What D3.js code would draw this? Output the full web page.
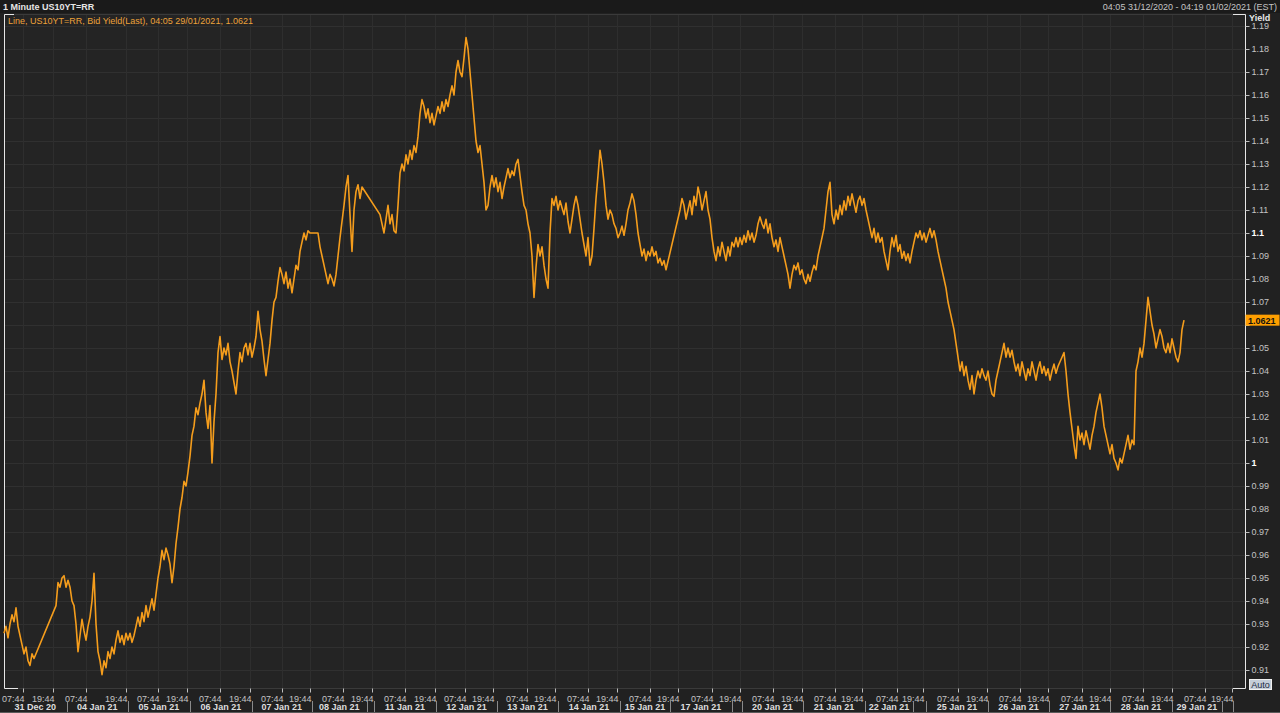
<!DOCTYPE html>
<html><head><meta charset="utf-8">
<script src="https://cdn.jsdelivr.net/npm/d3@7"></script>
<style>
html,body{margin:0;padding:0;background:#1f1f1f;}
svg{display:block;font-family:"Liberation Sans",Arial,sans-serif;}
</style></head>
<body>
<svg id="c" width="1280" height="713"></svg>
<script>
// ---------- DATA ----------
const chartTitle = "1 Minute US10YT=RR";
const rangeText = "04:05 31/12/2020 - 04:19 01/02/2021 (EST)";
const legendText = "Line, US10YT=RR, Bid Yield(Last), 04:05 29/01/2021, 1.0621";
const lastValueLabel = "1.0621";
const yAxisTitle = "Yield";
// compressed trading time, in hours from the first sample; one sample per 0.8 h (null = no data)
const sampleStepHours = 0.8;
const axisEndHours = 496.4;
const yields = [
 0.926,0.929,0.924,0.930,0.934,0.931,0.937,0.929,0.925,0.921,
 0.917,0.920,0.914,0.912,0.917,0.915,null,null,null,null,
 null,null,null,null,null,null,0.938,0.948,0.946,0.950,
 0.951,0.946,0.949,0.946,0.940,0.938,0.930,0.918,0.925,0.932,
 0.927,0.923,0.929,0.933,0.940,0.952,0.930,0.918,0.914,0.908,
 0.914,0.911,0.918,0.915,0.920,0.917,0.923,0.927,0.922,0.925,
 0.921,0.926,0.923,0.926,0.922,0.925,0.929,0.933,0.929,0.935,
 0.931,0.938,0.933,0.937,0.941,0.936,0.943,0.950,0.955,0.962,
 0.958,0.963,0.960,0.956,0.948,0.955,0.965,0.972,0.980,0.985,
 0.992,0.990,0.996,1.003,1.012,1.016,1.024,1.021,1.026,1.030,
 1.036,1.022,1.015,1.025,1.000,1.018,1.030,1.048,1.055,1.045,
 1.050,1.047,1.052,1.044,1.040,1.035,1.030,1.040,1.048,1.044,
 1.050,1.052,1.047,1.052,1.046,1.050,1.055,1.066,1.058,1.053,
 1.045,1.038,1.045,1.052,1.062,1.070,1.072,1.079,1.085,1.082,
 1.078,1.083,1.076,1.080,1.074,1.080,1.086,1.084,1.092,1.096,
 1.100,1.097,1.101,1.100,null,null,null,1.100,1.094,1.090,
 1.086,1.082,1.078,1.082,1.080,1.077,1.082,1.090,1.098,1.105,
 1.112,1.120,1.125,1.108,1.092,1.110,1.118,1.121,1.115,1.120,
 null,null,null,null,null,null,null,null,1.108,1.104,
 1.100,1.106,1.112,1.104,1.108,1.101,1.100,1.112,1.126,1.130,
 1.127,1.134,1.130,1.136,1.132,1.138,1.135,1.142,1.152,1.158,
 1.155,1.150,1.154,1.148,1.152,1.147,1.151,1.155,1.152,1.157,
 1.153,1.158,1.155,1.160,1.164,1.160,1.170,1.175,1.170,1.168,
 1.176,1.185,1.180,1.170,1.160,1.150,1.140,1.135,1.138,1.130,
 1.122,1.110,1.112,1.120,1.125,1.120,1.124,1.118,1.122,1.115,
 1.120,1.124,1.128,1.124,1.127,1.125,1.130,1.132,1.125,1.118,
 1.112,1.110,1.104,1.100,1.090,1.072,1.085,1.095,1.090,1.094,
 1.086,1.080,1.076,1.100,1.115,1.112,1.116,1.110,1.114,1.111,
 1.108,1.113,1.105,1.100,1.106,1.112,1.116,1.112,1.106,1.100,
 1.095,1.090,1.098,1.086,1.090,1.102,1.115,1.125,1.136,1.130,
 1.122,1.112,1.106,1.110,1.108,1.104,1.102,1.098,1.100,1.103,
 1.099,1.104,1.110,1.113,1.117,1.114,1.108,1.100,1.095,1.090,
 1.093,1.088,1.092,1.090,1.094,1.090,1.092,1.087,1.089,1.086,
 1.088,1.084,null,null,null,null,null,null,1.110,1.115,
 1.112,1.106,1.110,1.114,1.108,1.116,1.112,1.120,1.116,1.110,
 1.114,1.118,1.110,1.106,1.098,1.092,1.088,1.094,1.090,1.096,
 1.092,1.088,1.094,1.090,1.096,1.094,1.098,1.094,1.098,1.095,
 1.099,1.096,1.101,1.097,1.100,1.096,1.099,1.104,1.107,1.104,
 1.102,1.106,1.100,1.104,1.098,1.094,1.097,1.092,1.098,1.094,
 1.090,1.086,1.082,1.076,1.082,1.086,1.084,1.087,1.082,1.084,
 1.080,1.078,1.082,1.079,1.083,1.086,1.084,1.090,1.094,1.098,
 1.102,1.110,1.118,1.122,1.108,1.104,1.110,1.106,1.112,1.108,
 1.114,1.110,1.116,1.112,1.117,1.113,1.109,1.114,1.116,1.112,
 1.115,1.110,1.106,1.102,1.098,1.102,1.096,1.100,1.096,1.098,
 1.092,1.088,1.084,1.092,1.098,1.094,1.099,1.092,1.095,1.089,
 1.092,1.088,1.091,1.087,1.092,1.096,1.100,1.098,1.101,1.097,
 1.100,1.096,1.099,1.102,1.098,1.101,1.097,1.092,1.088,1.084,
 1.080,1.076,1.070,1.066,1.062,1.058,1.052,1.046,1.040,1.044,
 1.038,1.042,1.036,1.032,1.038,1.030,1.036,1.040,1.037,1.041,
 1.038,1.036,1.040,1.034,1.030,1.029,1.036,1.040,1.044,1.048,
 1.052,1.046,1.050,1.046,1.049,1.044,1.040,1.043,1.038,1.044,
 1.040,1.036,1.041,1.038,1.044,1.040,1.036,1.041,1.044,1.039,
 1.042,1.038,1.041,1.036,1.040,1.043,1.039,1.042,1.044,1.046,
 1.048,1.040,1.030,1.022,1.015,1.008,1.002,1.016,1.010,1.013,
 1.008,1.014,1.010,1.006,1.012,1.016,1.022,1.026,1.030,1.024,
 1.016,1.012,1.008,1.004,1.008,1.002,1.000,0.997,1.002,1.000,
 1.004,1.008,1.012,1.006,1.010,1.008,1.040,1.044,1.050,1.046,
 1.052,1.062,1.072,1.066,1.060,1.056,1.050,1.054,1.058,1.055,
 1.050,1.048,1.052,1.048,1.054,1.050,1.046,1.044,1.048,1.058,
 1.0621
];
// day segments of the compressed time axis (hours)
const dayLabels = ["31 Dec 20","04 Jan 21","05 Jan 21","06 Jan 21","07 Jan 21","08 Jan 21","","11 Jan 21","12 Jan 21","13 Jan 21","14 Jan 21","15 Jan 21","17 Jan 21","","20 Jan 21","21 Jan 21","22 Jan 21","","25 Jan 21","26 Jan 21","27 Jan 21","28 Jan 21","29 Jan 21",""];
const dayStart = [0,25.1,49.5,74.4,99.1,123.1,145.1,148.0,172.8,197.2,221.6,246.4,266.4,291.1,295.1,319.6,344.4,363.6,368.8,393.6,418.0,442.4,467.2,487.1];
const dayEnd   = [25.1,49.5,74.4,99.1,123.1,145.1,148.0,172.8,197.2,221.6,246.4,266.4,291.1,295.1,319.6,344.4,363.6,368.8,393.6,418.0,442.4,467.2,487.1,491.6];
// intraday time ticks (hours)
const ticksMorning = [7.6,32.8,61.6,86.4,111.2,135.6,160.4,184.4,209.2,233.6,258.4,283.2,307.6,332.4,357.2,381.6,406.4,431.2,455.6,480.4];
const ticksEvening = [19.6,48.8,73.2,98.4,122.4,147.2,172.4,195.6,220.4,245.2,269.6,294.4,319.2,343.2,367.6,393.2,417.6,442.4,467.2,491.2];
const morningLabel = "07:44", eveningLabel = "19:44";
const yTicks = [0.91,0.92,0.93,0.94,0.95,0.96,0.97,0.98,0.99,1.00,1.01,1.02,1.03,1.04,1.05,1.06,1.07,1.08,1.09,1.10,1.11,1.12,1.13,1.14,1.15,1.16,1.17,1.18,1.19];
const yBoldTicks = [1.00, 1.10];

// ---------- LAYOUT ----------
const L = 4, R = 1245, T = 14, B = 688;
const svg = d3.select("#c");
const x = d3.scaleLinear().domain([0, axisEndHours]).range([L, R]);
const y = d3.scaleLinear().domain([0.91, 1.19]).range([670, 26]);
const ORANGE = "#f59d1c";
const TXT = "#c4c4c4";

svg.append("rect").attr("x",0).attr("y",0).attr("width",1280).attr("height",713).attr("fill","#212121");
svg.append("rect").attr("x",0).attr("y",0).attr("width",1280).attr("height",13).attr("fill","#1a1a1a");
svg.append("rect").attr("x",L).attr("y",T).attr("width",R-L).attr("height",B-T).attr("fill","#242424");

// grid
const allTicks = ticksMorning.concat(ticksEvening).sort((a,b)=>a-b);
const grid = svg.append("g");
grid.selectAll("line.h").data(yTicks).join("line")
  .attr("x1",L).attr("x2",R).attr("y1",d=>Math.round(y(d))+0.5).attr("y2",d=>Math.round(y(d))+0.5)
  .attr("stroke","#303030").attr("stroke-width",1);
grid.selectAll("line.v").data(allTicks).join("line")
  .attr("x1",d=>Math.round(x(d))+0.5).attr("x2",d=>Math.round(x(d))+0.5).attr("y1",T).attr("y2",B)
  .attr("stroke","#2e2e2e").attr("stroke-width",1);

// frame
const fr = svg.append("g").attr("stroke-width",1).attr("fill","none");
fr.append("line").attr("x1",L).attr("x2",R).attr("y1",T+0.5).attr("y2",T+0.5).attr("stroke","#3a3a3a");
fr.append("line").attr("x1",L).attr("x2",R).attr("y1",B+0.5).attr("y2",B+0.5).attr("stroke","#3a3a3a");
fr.append("path").attr("d",`M${L+0.5},${B}V${T+0.5}H${L+10}`).attr("stroke","#e6e6e6");
fr.append("path").attr("d",`M${L+0.5},${B-10}V${B+0.5}H${L+14}`).attr("stroke","#e6e6e6");
fr.append("path").attr("d",`M${R-12},${T+0.5}H${R+0.5}V${B+0.5}H${R-12}`).attr("stroke","#e6e6e6");

// line
const pts = yields.map((v,i)=>({h:i*sampleStepHours, v})).filter(d=>d.v!==null);
svg.append("path").datum(pts)
  .attr("d", d3.line().x(d=>x(d.h)).y(d=>y(d.v)))
  .attr("fill","none").attr("stroke",ORANGE).attr("stroke-width",1.6).attr("stroke-linejoin","round");

// y axis (right)
const lastV = pts[pts.length-1].v;
const yAxis = svg.append("g").attr("transform",`translate(${R+0.5},0)`)
  .call(d3.axisRight(y).tickValues(yTicks).tickSize(4).tickPadding(2).tickFormat(d=>String(+d.toFixed(2))));
yAxis.select(".domain").remove();
yAxis.selectAll(".tick line").attr("stroke","#bdbdbd");
yAxis.selectAll(".tick text").style("font-size","9px").style("font-family","Liberation Sans, Arial, sans-serif")
  .attr("font-weight",d=>yBoldTicks.some(b=>Math.abs(b-d)<1e-9)?"bold":"normal")
  .attr("fill",d=>yBoldTicks.some(b=>Math.abs(b-d)<1e-9)?"#ffffff":TXT)
  .style("display",d=>Math.abs(y(d)-y(lastV))<8?"none":null);
svg.append("text").attr("x",R+4).attr("y",21).text(yAxisTitle)
  .attr("fill","#e8e8e8").attr("font-weight","bold").style("font-size","9px");

// last value box
svg.append("rect").attr("x",R+0.5).attr("y",y(lastV)-5.5).attr("width",34).attr("height",11).attr("fill","#ff9f00");
svg.append("text").attr("x",R+3).attr("y",y(lastV)+3.5).text(lastValueLabel)
  .attr("fill","#111").attr("font-weight","bold").style("font-size","9px");

// x axis
const xAxis = svg.append("g").attr("transform",`translate(0,${B+0.5})`)
  .call(d3.axisBottom(x).tickValues(allTicks).tickSize(4).tickPadding(3)
    .tickFormat(d=>ticksMorning.includes(d)?morningLabel:eveningLabel));
xAxis.select(".domain").remove();
xAxis.selectAll(".tick line").attr("stroke","#bdbdbd");
xAxis.selectAll(".tick text").attr("fill",TXT).style("font-size","9px").style("font-family","Liberation Sans, Arial, sans-serif")
  .attr("text-anchor","end").attr("x",1);

// day row
const days = dayLabels.map((l,i)=>({l, s:dayStart[i], e:dayEnd[i]}));
const dg = svg.append("g");
dg.selectAll("line").data(days).join("line")
  .attr("x1",d=>Math.round(x(d.e))+0.5).attr("x2",d=>Math.round(x(d.e))+0.5)
  .attr("y1",701).attr("y2",713).attr("stroke","#8a8a8a");
dg.selectAll("text").data(days.filter(d=>d.l)).join("text")
  .attr("x",d=>x((d.s+d.e)/2)).attr("y",710).attr("text-anchor","middle").text(d=>d.l)
  .attr("fill","#dedede").attr("font-weight","bold").style("font-size","9px");
svg.append("line").attr("x1",0).attr("x2",1280).attr("y1",712.5).attr("y2",712.5).attr("stroke","#5a5a5a");

// headers
svg.append("text").attr("x",3).attr("y",10).text(chartTitle).attr("fill","#e6e6e6").attr("font-weight","bold").style("font-size","9px");
svg.append("text").attr("x",1277).attr("y",10).attr("text-anchor","end").text(rangeText).attr("fill",TXT).style("font-size","9px");
svg.append("text").attr("x",8).attr("y",24).text(legendText).attr("fill","#eda23a").style("font-size","9px");

// Auto button
svg.append("rect").attr("x",1249.5).attr("y",679.5).attr("width",22).attr("height",10).attr("fill","#c5ced8").attr("stroke","#f0f0f0");
svg.append("text").attr("x",1260.5).attr("y",688).attr("text-anchor","middle").text("Auto").attr("fill","#1c2a40").style("font-size","9px");
</script>
</body></html>
